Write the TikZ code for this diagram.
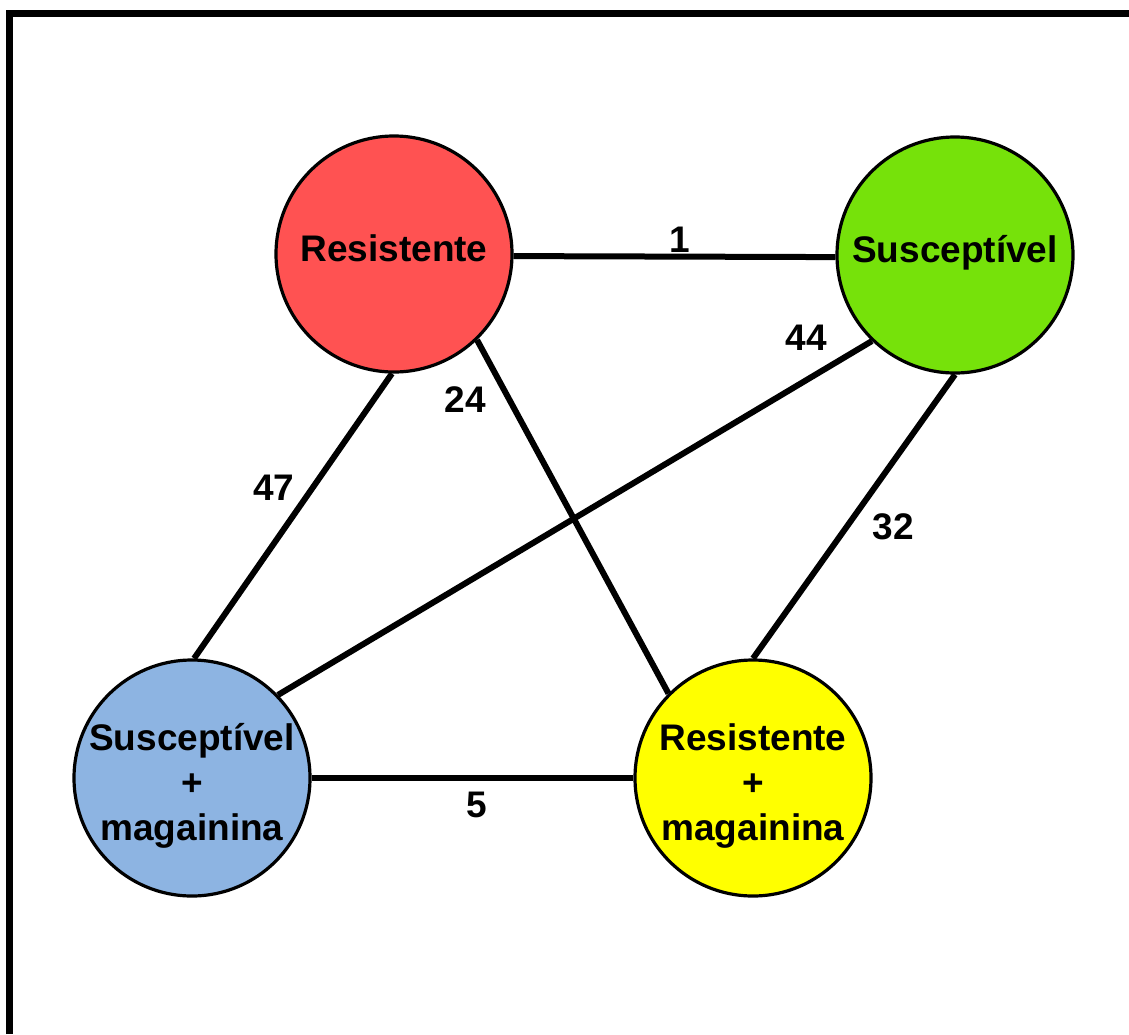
\documentclass[tikz,border=0pt]{standalone}
\usepackage{fontspec}
\setmainfont{Liberation Sans}
\definecolor{cred}{RGB}{255,82,82}
\definecolor{cgreen}{RGB}{118,226,10}
\definecolor{cblue}{RGB}{141,180,226}
\definecolor{cyellow}{RGB}{255,255,0}
\begin{document}
\begin{tikzpicture}[x=1pt,y=-1pt,
 state/.style={circle,draw=black,line width=3.2pt,minimum size=236pt,inner sep=0pt,align=center,font=\fontsize{37}{45}\selectfont\bfseries},
 one/.style={text height=26pt,text depth=12pt},
 three/.style={text height=133pt,text depth=8pt,inner sep=-10pt},
 edge/.style={line width=6pt},
 num/.style={font=\fontsize{37}{42}\selectfont\bfseries,inner sep=0pt}]
\useasboundingbox (0,0) rectangle (1129,1034);
\draw[line width=7pt] (9,1034) -- (9,13) -- (1129,13);
\node[state,one,fill=cred] (r) at (394,254) {Resistente};
\node[state,one,fill=cgreen] (s) at (955,255) {Susceptível};
\node[state,three,fill=cblue] (sm) at (192,778) {Susceptível\\+\\magainina};
\node[state,three,fill=cyellow] (rm) at (753,778) {Resistente\\+\\magainina};
\draw[edge] (r.-1.5) -- (s.181.5);
\draw[edge] (r.-46.7) -- (rm.135.7);
\draw[edge] (r.-91) -- (sm.89.5);
\draw[edge] (s.-134) -- (sm.44);
\draw[edge] (s.-90) -- (rm.90);
\draw[edge] (sm.0) -- (rm.180);
\node[num] (l1) at (680,240) {1};
\node[num] (l44) at (806,338) {44};
\node[num] (l24) at (465,400) {24};
\node[num] (l47) at (274,488) {47};
\node[num] (l32) at (893,527) {32};
\node[num] (l5) at (477,805) {5};
\end{tikzpicture}
\end{document}
